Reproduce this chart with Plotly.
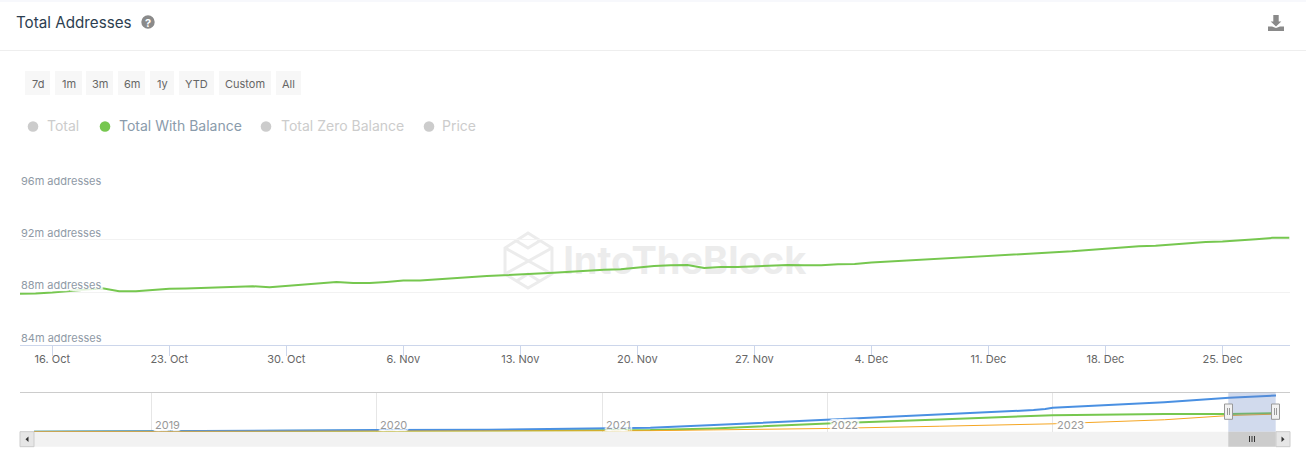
import pandas as pd
import plotly.graph_objects as go

W, H = 1306, 468
FONT = "Inter"

# --- main chart data ---
START_DATE = "2023-10-14"
with_balance = [
    87.89, 87.91, 87.99, 88.11, 88.24, 88.32, 88.09, 88.09, 88.19, 88.27, 88.29, 88.34,
    88.39, 88.47, 88.47, 88.39, 88.49, 88.62, 88.72, 88.80, 88.72, 88.72, 88.80, 88.90,
    88.90, 89.00, 89.10, 89.18, 89.25, 89.30, 89.35, 89.40, 89.50, 89.58, 89.66, 89.73,
    89.76, 89.89, 90.01, 90.06, 90.09, 89.86, 89.94, 89.94, 89.99, 90.06, 90.09, 90.06,
    90.06, 90.14, 90.16, 90.27, 90.34, 90.39, 90.49, 90.57, 90.59, 90.67, 90.75, 90.82,
    90.90, 90.97, 91.05, 91.13, 91.23, 91.33, 91.43, 91.51, 91.56, 91.66, 91.73, 91.84,
    91.89, 91.96, 92.06, 92.16, 92.16,
]
y_ticks = [84, 88, 92, 96]
y_labels = ["84m addresses", "88m addresses", "92m addresses", "96m addresses"]
x_ticks = ["2023-10-16", "2023-10-23", "2023-10-30", "2023-11-06", "2023-11-13", "2023-11-20",
           "2023-11-27", "2023-12-04", "2023-12-11", "2023-12-18", "2023-12-25"]
x_labels = ["16. Oct", "23. Oct", "30. Oct", "6. Nov", "13. Nov", "20. Nov",
            "27. Nov", "4. Dec", "11. Dec", "18. Dec", "25. Dec"]

# --- navigator data (price is rescaled to the navigator height) ---
nav_dates = ["2018-06-25", "2019-01-01", "2019-07-01", "2020-01-01", "2020-07-01", "2021-01-01",
             "2021-03-20", "2021-07-01", "2022-01-01", "2022-07-01", "2022-12-01", "2022-12-20",
             "2023-01-01", "2023-07-01", "2023-10-14", "2023-12-29"]
nav_total = [0, 4, 6, 8, 10, 15, 20, 33, 58, 84, 107, 112, 118, 146, 168, 179]
nav_balance = [0, 1.5, 2, 3, 4, 7, 8, 16, 41, 60, 76, 79, 82, 88, 88, 92.2]
nav_price = [0.5, 0.7, 1, 1.5, 2, 3.5, 5, 9, 16, 27, 37, 38, 39, 59, 80, 87]
nav_years = ["2019-01-01", "2020-01-01", "2021-01-01", "2022-01-01", "2023-01-01"]
nav_year_labels = ["2019", "2020", "2021", "2022", "2023"]

range_buttons = ["7d", "1m", "3m", "6m", "1y", "YTD", "Custom", "All"]
legend_names = ["Total", "Total With Balance", "Total Zero Balance", "Price"]

GREEN = "#76c74f"
BLUE = "#4a90e2"
ORANGE = "#f5a623"
# white outline round axis labels, the line disappears behind them
HALO = ("2px 0 1px #fff, -2px 0 1px #fff, 0 2px 1px #fff, 0 -2px 1px #fff, "
        "2px 2px 1px #fff, -2px -2px 1px #fff, 2px -2px 1px #fff, -2px 2px 1px #fff")


def px(x):
    return x / W


def py(y):
    return 1 - y / H


def rect(x0, y0, x1, y1, fill, line=None, layer="above"):
    return dict(type="rect", xref="paper", yref="paper", x0=px(x0), x1=px(x1), y0=py(y0), y1=py(y1),
                fillcolor=fill, line=dict(color=line or fill, width=1 if line else 0), layer=layer)


def hline(x0, x1, y, color, width=1, layer="above"):
    return dict(type="line", xref="paper", yref="paper", x0=px(x0), x1=px(x1), y0=py(y), y1=py(y),
                line=dict(color=color, width=width), layer=layer)


def vline(x, y0, y1, color, width=1):
    return dict(type="line", xref="paper", yref="paper", x0=px(x), x1=px(x), y0=py(y0), y1=py(y1),
                line=dict(color=color, width=width), layer="above")


def path(points, fill=None, color="#ececec", width=3, layer="below", close=True):
    d = "M" + " L".join(f"{px(a):.5f},{py(b):.5f}" for a, b in points) + (" Z" if close else "")
    return dict(type="path", xref="paper", yref="paper", path=d, layer=layer,
                fillcolor=fill or "rgba(0,0,0,0)", line=dict(color=color, width=width))


def label(x, y, text, size, color, anchor="left", weight=None):
    return dict(xref="paper", yref="paper", x=px(x), y=py(y), text=text, showarrow=False,
                xanchor=anchor, yanchor="middle",
                font=dict(family=FONT, size=size, color=color, weight=weight))


dates = pd.date_range(START_DATE, periods=len(with_balance), freq="D")

fig = go.Figure()

# watermark goes first so the line is drawn over it
fig.add_trace(go.Scatter(x=["2023-11-22 20:00"], y=[90.13], mode="text", text=["IntoTheBlock"],
                         textposition="middle center", hoverinfo="skip", showlegend=False,
                         textfont=dict(family=FONT, size=38, color="#ececec", weight=700)))
fig.add_trace(go.Scatter(x=dates, y=with_balance, mode="lines", name="Total With Balance",
                         line=dict(color=GREEN, width=2), showlegend=False))

fig.add_trace(go.Scatter(x=nav_dates, y=nav_balance, mode="lines", name="Total With Balance", xaxis="x2",
                         yaxis="y2", line=dict(color=GREEN, width=2), showlegend=False))
fig.add_trace(go.Scatter(x=nav_dates, y=nav_total, mode="lines", name="Total", xaxis="x2", yaxis="y2",
                         line=dict(color=BLUE, width=2), showlegend=False))
fig.add_trace(go.Scatter(x=nav_dates, y=nav_price, mode="lines", name="Price", xaxis="x2", yaxis="y2",
                         line=dict(color=ORANGE, width=1), showlegend=False))

shapes = [
    rect(0, 0, W, 2, "#f7f8fc", layer="below"),
    hline(0, W, 50.5, "#eeeeee"),
    dict(type="circle", xref="paper", yref="paper", x0=px(141.3), x1=px(154.7), y0=py(15.3), y1=py(28.7),
         fillcolor="#8a8a8a", line=dict(width=0)),
    # download icon
    path([(1273.3, 15), (1278.7, 15), (1278.7, 21.5), (1281.3, 21.5), (1276, 26.5), (1270.7, 21.5), (1273.3, 21.5)],
         fill="#8a8a8a", color="#8a8a8a", width=0, layer="above"),
    path([(1268, 26.5), (1272, 26.5), (1276, 28), (1280, 26.5), (1284, 26.5), (1284, 31), (1268, 31)],
         fill="#8a8a8a", color="#8a8a8a", width=0, layer="above"),
    # watermark logo
    path([(528, 233), (552, 248), (552, 274), (528, 288), (505, 274), (505, 248)]),
    path([(505, 248), (552, 274)], close=False),
    path([(552, 248), (505, 274)], close=False),
    path([(516.5, 241), (528, 248), (539.5, 241)], close=False),
    path([(516.5, 281), (528, 274), (539.5, 281)], close=False),
    # navigator frame
    hline(20, 1290, 392.5, "#cccccc"),
    rect(20, 431.7, 1290, 446.7, "#f2f2f2", layer="below"),
    rect(20, 431.7, 34, 446.7, "#e6e6e6", line="#cccccc"),
    rect(1276, 431.7, 1290, 446.7, "#e6e6e6", line="#cccccc"),
    path([(25.5, 439.2), (28.5, 436.5), (28.5, 442)], fill="#333333", color="#333333", width=0, layer="above"),
    path([(1284.5, 439.2), (1281.5, 436.5), (1281.5, 442)], fill="#333333", color="#333333", width=0, layer="above"),
    rect(1228.3, 392.5, 1275.7, 431.7, "rgba(102,133,194,0.3)"),
    rect(1228.3, 431.7, 1275.7, 446.7, "#cccccc"),
    vline(1249.5, 436, 442, "#333333"),
    vline(1252, 436, 442, "#333333"),
    vline(1254.5, 436, 442, "#333333"),
    rect(1224.5, 404, 1232.5, 419.3, "#f2f2f2", line="#999999"),
    rect(1271.5, 404, 1279.5, 419.3, "#f2f2f2", line="#999999"),
    vline(1227.5, 408, 415, "#999999"),
    vline(1229.5, 408, 415, "#999999"),
    vline(1274.5, 408, 415, "#999999"),
    vline(1276.5, 408, 415, "#999999"),
]

annotations = [
    label(13.5, 22.5, "Total Addresses", 15.2, "#2c3e50"),
    label(148, 22.5, "?", 11, "#ffffff", anchor="center", weight=700),
]

# range selector buttons
button_edges = [(25, 50), (55, 82), (86, 113), (118, 145), (150, 174), (179, 214), (219, 271), (276, 301)]
for name, (left, right) in zip(range_buttons, button_edges):
    shapes.append(rect(left, 71, right, 95, "#f7f7f7", layer="below"))
    annotations.append(label((left + right) / 2, 84, name, 11, "#666666", anchor="center"))

# legend, only the middle series is switched on
legend_dots = [33, 105, 266, 429]
legend_text = [45, 117, 279, 440]
for i, name in enumerate(legend_names):
    on = name == "Total With Balance"
    cx = legend_dots[i]
    shapes.append(dict(type="circle", xref="paper", yref="paper", x0=px(cx - 5.3), x1=px(cx + 5.3),
                       y0=py(126.5 - 5.3), y1=py(126.5 + 5.3), fillcolor=GREEN if on else "#cccccc",
                       line=dict(width=0)))
    annotations.append(label(legend_text[i], 126, name, 14, "#8a9bab" if on else "#cccccc"))

# y labels sit on top of their grid lines, starting at the plot's left edge
for tick, text in zip(y_ticks, y_labels):
    annotations.append(dict(xref="paper", yref="y", x=px(20), y=tick, text=text, showarrow=False,
                            xanchor="left", yanchor="bottom", yshift=-1, borderpad=0,
                            font=dict(family=FONT, size=11, color="#8f9aa6", shadow=HALO)))

# navigator year labels
for year, text in zip(nav_years, nav_year_labels):
    annotations.append(dict(xref="x2", yref="paper", x=year, y=py(424.5), text=text, showarrow=False,
                            xanchor="left", yanchor="middle", xshift=2,
                            font=dict(family=FONT, size=11, color="#999999", shadow=HALO)))

fig.update_layout(
    width=W,
    height=H,
    margin=dict(l=0, r=0, t=0, b=0),
    paper_bgcolor="#ffffff",
    plot_bgcolor="#ffffff",
    showlegend=False,
    font=dict(family=FONT),
    shapes=shapes,
    annotations=annotations,
    xaxis=dict(
        domain=[px(20), px(1290)],
        range=["2023-10-14 01:40", "2023-12-29 01:00"],
        tickmode="array",
        tickvals=x_ticks,
        ticktext=x_labels,
        ticks="outside",
        ticklen=10,
        tickcolor="#ccd6eb",
        tickwidth=1,
        ticklabelstandoff=-6,
        tickfont=dict(family=FONT, size=11, color="#666666"),
        showgrid=False,
        zeroline=False,
        showline=True,
        linecolor="#ccd6eb",
        linewidth=1,
    ),
    yaxis=dict(
        domain=[py(344.8), py(187.5)],
        range=[84, 96],
        tickmode="array",
        tickvals=y_ticks,
        showticklabels=False,
        ticks="",
        showgrid=True,
        gridcolor="#f2f2f2",
        gridwidth=1,
        zeroline=False,
        showline=False,
    ),
    xaxis2=dict(
        domain=[px(34), px(1276)],
        anchor="y2",
        range=["2018-06-25", "2023-12-29"],
        tickmode="array",
        tickvals=nav_years,
        showticklabels=False,
        ticks="",
        showgrid=True,
        gridcolor="#e6e6e6",
        gridwidth=1,
        zeroline=False,
        showline=False,
    ),
    yaxis2=dict(
        domain=[py(431.7), py(392.5)],
        anchor="x2",
        range=[0, 194],
        showticklabels=False,
        showgrid=False,
        zeroline=False,
        showline=False,
    ),
)

fig.write_html("out.html", config=dict(displayModeBar=False),
               post_script="document.body.style.margin='0';")
